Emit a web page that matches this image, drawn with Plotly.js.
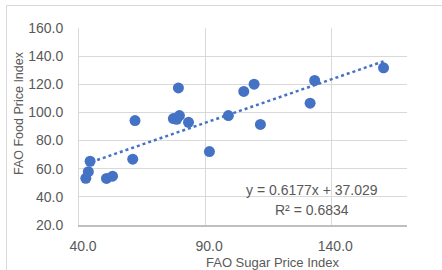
<!DOCTYPE html>
<html>
<head>
<meta charset="utf-8">
<script src="https://cdn.plot.ly/plotly-3.0.1.min.js"></script>
<style>html,body{margin:0;padding:0;background:#fff;}#chart{width:442px;height:270px;}</style>
</head>
<body>
<div id="chart"></div>
<script>
// Data
const sugarIndex = [42.7, 43.7, 44.4, 50.9, 53.3, 61.3, 62.2, 77.4, 78.7, 79.8, 79.4, 83.4, 91.7, 99.2, 105.3, 109.4, 111.9, 133.4, 131.6, 160.7];
const foodIndex  = [53.2, 57.9, 65.3, 53.1, 54.7, 66.8, 94.2, 95.6, 95.1, 97.8, 117.4, 93.0, 72.2, 97.8, 114.9, 120.1, 91.5, 122.7, 106.6, 131.7];
const trendSlope = 0.6177;
const trendIntercept = 37.029;
const rSquared = 0.6834;
const xTicks = [40, 90, 140];
const yTicks = [20, 40, 60, 80, 100, 120, 140, 160];

const xMin = Math.min(...sugarIndex), xMax = Math.max(...sugarIndex);
const trendX = [xMin, xMax];
const trendY = trendX.map(v => trendSlope * v + trendIntercept);

const blue = '#4472C4';
const grey = '#595959';
const font = 'Liberation Sans, Arial, sans-serif';

const traces = [
  {
    x: trendX, y: trendY, type: 'scatter', mode: 'lines',
    line: {color: blue, width: 2.5, dash: 'dot'}, hoverinfo: 'skip'
  },
  {
    x: sugarIndex, y: foodIndex, type: 'scatter', mode: 'markers',
    marker: {color: blue, size: 11, line: {width: 0}}
  }
];

const W = 442, H = 270, L = 79, R = 35, T = 28, B = 45;
const pw = W - L - R, ph = H - T - B;
const px = v => (v - L) / pw;
const py = v => (H - B - v) / ph;

const layout = {
  width: W, height: H,
  margin: {l: L, r: R, t: T, b: B},
  paper_bgcolor: '#fff', plot_bgcolor: '#fff',
  showlegend: false,
  font: {family: font, color: grey, size: 14},
  xaxis: {
    range: [40, 170], tickvals: xTicks, tickformat: '.1f',
    showgrid: true, gridcolor: '#d9d9d9', gridwidth: 1,
    zeroline: false, showline: true, linecolor: '#bfbfbf', linewidth: 1.5,
    ticks: 'outside', ticklen: 8, tickcolor: 'rgba(0,0,0,0)',
    ticklabelshift: 4,
    tickfont: {size: 14, color: grey, family: font}
  },
  yaxis: {
    range: [20, 160], tickvals: yTicks, tickformat: '.1f',
    showgrid: true, gridcolor: '#d9d9d9', gridwidth: 1,
    zeroline: false, showline: true, linecolor: '#d9d9d9', linewidth: 1,
    ticks: 'outside', ticklen: 12, tickcolor: 'rgba(0,0,0,0)',
    tickfont: {size: 14, color: grey, family: font}
  },
  shapes: [
    {type: 'line', xref: 'paper', yref: 'paper', x0: px(6.5), x1: px(442), y0: py(5.5), y1: py(5.5), line: {color: '#d9d9d9', width: 1}},
    {type: 'line', xref: 'paper', yref: 'paper', x0: px(6.5), x1: px(6.5), y0: py(5.5), y1: py(272), line: {color: '#d9d9d9', width: 1}}
  ],
  annotations: [
    {text: 'FAO Sugar Price Index', xref: 'paper', yref: 'paper', x: px(272), y: py(262.5), xanchor: 'center', yanchor: 'middle', showarrow: false, font: {size: 13, color: grey, family: font}},
    {text: 'FAO Food Price Index', xref: 'paper', yref: 'paper', x: px(19), y: py(113), xanchor: 'center', yanchor: 'middle', textangle: -90, showarrow: false, font: {size: 12.5, color: grey, family: font}},
    {text: 'y = ' + trendSlope + 'x + ' + trendIntercept, xref: 'paper', yref: 'paper', x: px(311.7), y: py(190), xanchor: 'center', yanchor: 'middle', showarrow: false, font: {size: 14, color: grey, family: font}},
    {text: 'R² = ' + rSquared, xref: 'paper', yref: 'paper', x: px(311.7), y: py(210), xanchor: 'center', yanchor: 'middle', showarrow: false, font: {size: 14, color: grey, family: font}}
  ]
};

Plotly.newPlot('chart', traces, layout, {displayModeBar: false, staticPlot: true});
</script>
</body>
</html>
